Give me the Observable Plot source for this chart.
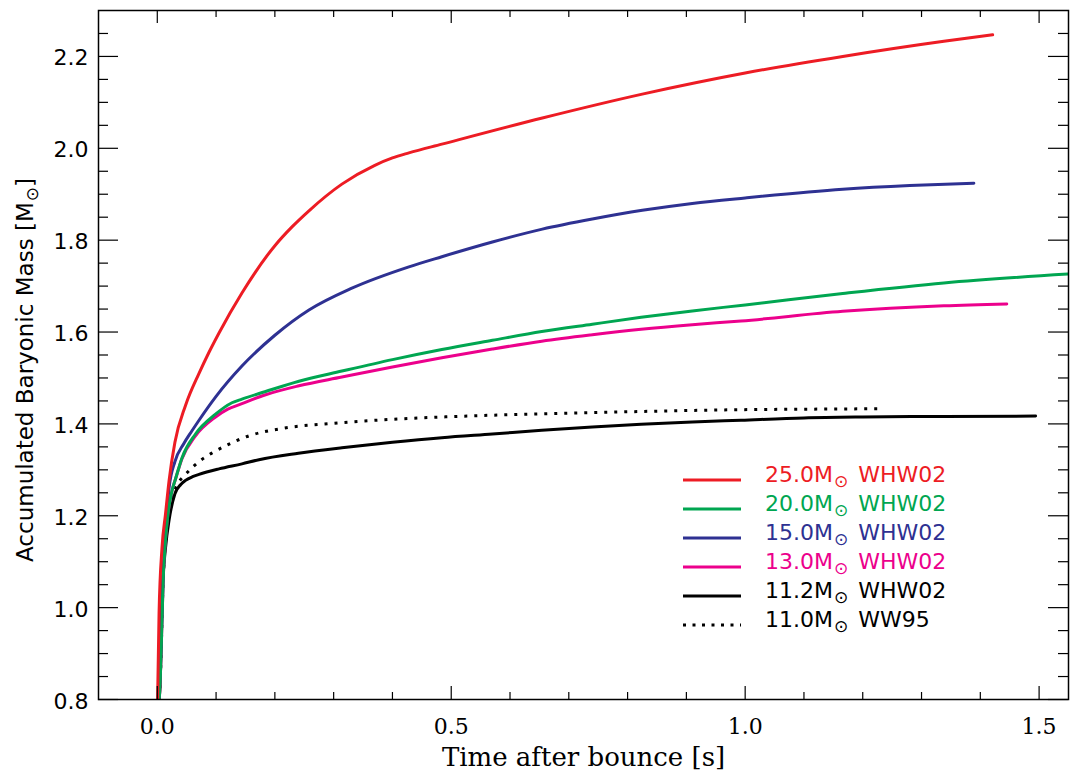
<!DOCTYPE html>
<html>
<head>
<meta charset="utf-8">
<script src="https://cdn.jsdelivr.net/npm/d3@7"></script>
<script src="https://cdn.jsdelivr.net/npm/@observablehq/plot@0.6"></script>
<style>
  html, body { margin: 0; padding: 0; background: #fff; }
  #chart { width: 1070px; height: 772px; }
</style>
</head>
<body>
<div id="chart"></div>
<script>
// ---------------- data ----------------
const xMajor = [0.0, 0.5, 1.0, 1.5];
const xMinor = [0.1, 0.2, 0.3, 0.4, 0.6, 0.7, 0.8, 0.9, 1.1, 1.2, 1.3, 1.4];
const yMajor = [0.8, 1.0, 1.2, 1.4, 1.6, 1.8, 2.0, 2.2];
const yMinor = [0.85, 0.9, 0.95, 1.05, 1.1, 1.15, 1.25, 1.3, 1.35, 1.45, 1.5, 1.55,
                1.65, 1.7, 1.75, 1.85, 1.9, 1.95, 2.05, 2.1, 2.15, 2.25];

const seriesNames = ["25.0M⊙ WHW02", "20.0M⊙ WHW02", "15.0M⊙ WHW02", "13.0M⊙ WHW02", "11.2M⊙ WHW02", "11.0M⊙ WW95"];
const seriesColors = ["#ED1C24", "#00A651", "#2E3192", "#EC008C", "#000000", "#000000"];

const t25 = [0.000,0.003,0.008,0.014,0.020,0.030,0.048,0.071,0.088,0.105,0.144,0.200,0.230,0.258,0.314,0.370,0.400,0.428,0.484,0.655,0.825,1.000,1.166,1.338,1.421];
const m25 = [0.760,0.987,1.130,1.204,1.276,1.360,1.440,1.510,1.556,1.598,1.685,1.788,1.830,1.864,1.922,1.963,1.979,1.990,2.009,2.066,2.118,2.164,2.200,2.233,2.247];

const t20 = [0.000,0.005,0.010,0.017,0.025,0.031,0.042,0.065,0.098,0.127,0.144,0.183,0.241,0.314,0.400,0.484,0.570,0.654,0.740,0.823,0.910,1.000,1.166,1.338,1.560];
const m20 = [0.760,0.840,1.060,1.190,1.254,1.280,1.326,1.378,1.420,1.446,1.454,1.470,1.493,1.515,1.540,1.562,1.582,1.601,1.617,1.632,1.646,1.659,1.684,1.707,1.727];

const t15 = [0.000,0.005,0.010,0.015,0.020,0.030,0.045,0.059,0.071,0.100,0.144,0.200,0.258,0.330,0.428,0.484,0.570,0.655,0.740,0.825,0.910,1.000,1.166,1.280,1.389];
const m15 = [0.760,0.860,1.070,1.190,1.260,1.318,1.357,1.385,1.408,1.460,1.526,1.593,1.648,1.695,1.742,1.764,1.796,1.824,1.846,1.865,1.880,1.892,1.911,1.919,1.924];

const t13 = [0.000,0.005,0.010,0.017,0.025,0.031,0.042,0.065,0.098,0.120,0.144,0.183,0.241,0.314,0.400,0.484,0.570,0.654,0.740,0.823,0.910,0.993,1.166,1.338,1.445];
const m13 = [0.760,0.840,1.060,1.190,1.254,1.280,1.324,1.374,1.414,1.432,1.444,1.463,1.483,1.502,1.524,1.544,1.563,1.580,1.594,1.606,1.616,1.624,1.645,1.657,1.661];

const t112 = [0.000,0.005,0.008,0.014,0.020,0.030,0.040,0.048,0.060,0.071,0.105,0.144,0.173,0.240,0.314,0.400,0.484,0.570,0.654,0.740,0.823,0.910,0.993,1.100,1.200,1.300,1.494];
const m112 = [0.760,0.840,1.020,1.130,1.190,1.248,1.268,1.277,1.285,1.290,1.302,1.313,1.322,1.336,1.348,1.360,1.370,1.378,1.386,1.393,1.399,1.404,1.408,1.413,1.415,1.416,1.417];

const t110 = [0.000,0.005,0.010,0.017,0.025,0.035,0.048,0.073,0.095,0.127,0.156,0.212,0.297,0.400,0.484,0.654,0.823,0.993,1.100,1.226];
const m110 = [0.760,0.840,1.060,1.180,1.240,1.270,1.290,1.320,1.338,1.359,1.374,1.390,1.401,1.410,1.415,1.422,1.427,1.431,1.432,1.433];

const toRows = (ts, ms) => ts.map((t, i) => ({t, m: ms[i]}));
const rows25 = toRows(t25, m25), rows20 = toRows(t20, m20), rows15 = toRows(t15, m15),
      rows13 = toRows(t13, m13), rows112 = toRows(t112, m112), rows110 = toRows(t110, m110);

// ---------------- layout ----------------
const W = 1070, H = 772, mL = 98, mR = 2, mT = 10, mB = 73;
const pW = W - mL - mR, pH = H - mT - mB;
const sans = "DejaVu Sans";
const serif = "DejaVu Serif";
const lw = 3;

const lineOpts = (c, extra = {}) => ({x: "t", y: "m", stroke: c, strokeWidth: lw, curve: "monotone-x", clip: true, ...extra});

const svg = Plot.plot({
  width: W, height: H,
  marginLeft: mL, marginRight: mR, marginTop: mT, marginBottom: mB,
  x: {domain: [-0.1, 1.55]},
  y: {domain: [0.8, 2.3]},
  style: {background: "#fff", color: "#000"},
  marks: [
    // curves
    Plot.line(rows110, lineOpts(seriesColors[5], {strokeDasharray: "3,7", strokeLinecap: "butt"})),
    Plot.line(rows112, lineOpts(seriesColors[4])),
    Plot.line(rows13, lineOpts(seriesColors[3])),
    Plot.line(rows15, lineOpts(seriesColors[2])),
    Plot.line(rows20, lineOpts(seriesColors[1])),
    Plot.line(rows25, lineOpts(seriesColors[0])),
    // inward ticks on all four sides
    Plot.tickX(xMinor, {x: d => d, insetTop: pH - 7, stroke: "#000", strokeWidth: 1.2}),
    Plot.tickX(xMinor, {x: d => d, insetBottom: pH - 7, stroke: "#000", strokeWidth: 1.2}),
    Plot.tickX(xMajor, {x: d => d, insetTop: pH - 13, stroke: "#000", strokeWidth: 1.2}),
    Plot.tickX(xMajor, {x: d => d, insetBottom: pH - 13, stroke: "#000", strokeWidth: 1.2}),
    Plot.tickY(yMinor, {y: d => d, insetRight: pW - 10, stroke: "#000", strokeWidth: 1.2}),
    Plot.tickY(yMinor, {y: d => d, insetLeft: pW - 10, stroke: "#000", strokeWidth: 1.2}),
    Plot.tickY(yMajor, {y: d => d, insetRight: pW - 20, stroke: "#000", strokeWidth: 1.2}),
    Plot.tickY(yMajor, {y: d => d, insetLeft: pW - 20, stroke: "#000", strokeWidth: 1.2}),
    Plot.frame({stroke: "#000", strokeWidth: 1.5}),
    // tick labels
    Plot.axisX({ticks: xMajor, tickSize: 0, tickPadding: 19, tickFormat: d => d.toFixed(1),
                fontSize: 22, fontFamily: serif, label: null}),
    Plot.axisY({ticks: yMajor, tickSize: 0, tickPadding: 10, tickFormat: d => d.toFixed(1),
                fontSize: 22, fontFamily: sans, label: null, dy: 2}),
    // axis titles
    Plot.text(["Time after bounce [s]"], {frameAnchor: "bottom", lineAnchor: "middle", textAnchor: "middle",
                dy: 58, fontSize: 26, fontFamily: serif, fill: "#000", letterSpacing: 0.8}),
    Plot.text(["Accumulated Baryonic Mass [M⊙]"], {frameAnchor: "left", textAnchor: "middle", lineAnchor: "middle",
                dx: -73, dy: 15, rotate: -90, fontSize: 23, fontFamily: sans, fill: "#000", letterSpacing: 1.5})
  ]
});

// ---------------- legend ----------------
const sel = d3.select(svg);
const lg = sel.append("g").attr("class", "legend").attr("text-anchor", "start");
const legY0 = 480, legDY = 29, legX1 = 683, legX2 = 741, legTX = 765;
seriesNames.forEach((name, i) => {
  const y = legY0 + i * legDY;
  const ln = lg.append("line").attr("x1", legX1).attr("x2", legX2).attr("y1", y).attr("y2", y)
    .attr("stroke", seriesColors[i]).attr("stroke-width", lw);
  if (i === 5) ln.attr("stroke-dasharray", "3,6.5");
  lg.append("text").attr("x", legTX).attr("y", y + 2).attr("text-anchor", "start")
    .attr("fill", seriesColors[i]).attr("font-family", sans).attr("font-size", 22).text(name);
});

// solar-mass symbol as a small subscript
sel.selectAll("text").each(function () {
  const s = this.textContent;
  if (!s.includes("⊙")) return;
  const el = d3.select(this);
  const [a, b] = s.split("⊙");
  el.text(null);
  el.append("tspan").text(a);
  el.append("tspan").attr("font-size", 17).attr("dy", 5).attr("dx", 1).text("⊙");
  el.append("tspan").attr("dy", -5).attr("dx", b.startsWith(" ") ? 3 : 0).text(b);
});

document.getElementById("chart").appendChild(svg);
</script>
</body>
</html>
